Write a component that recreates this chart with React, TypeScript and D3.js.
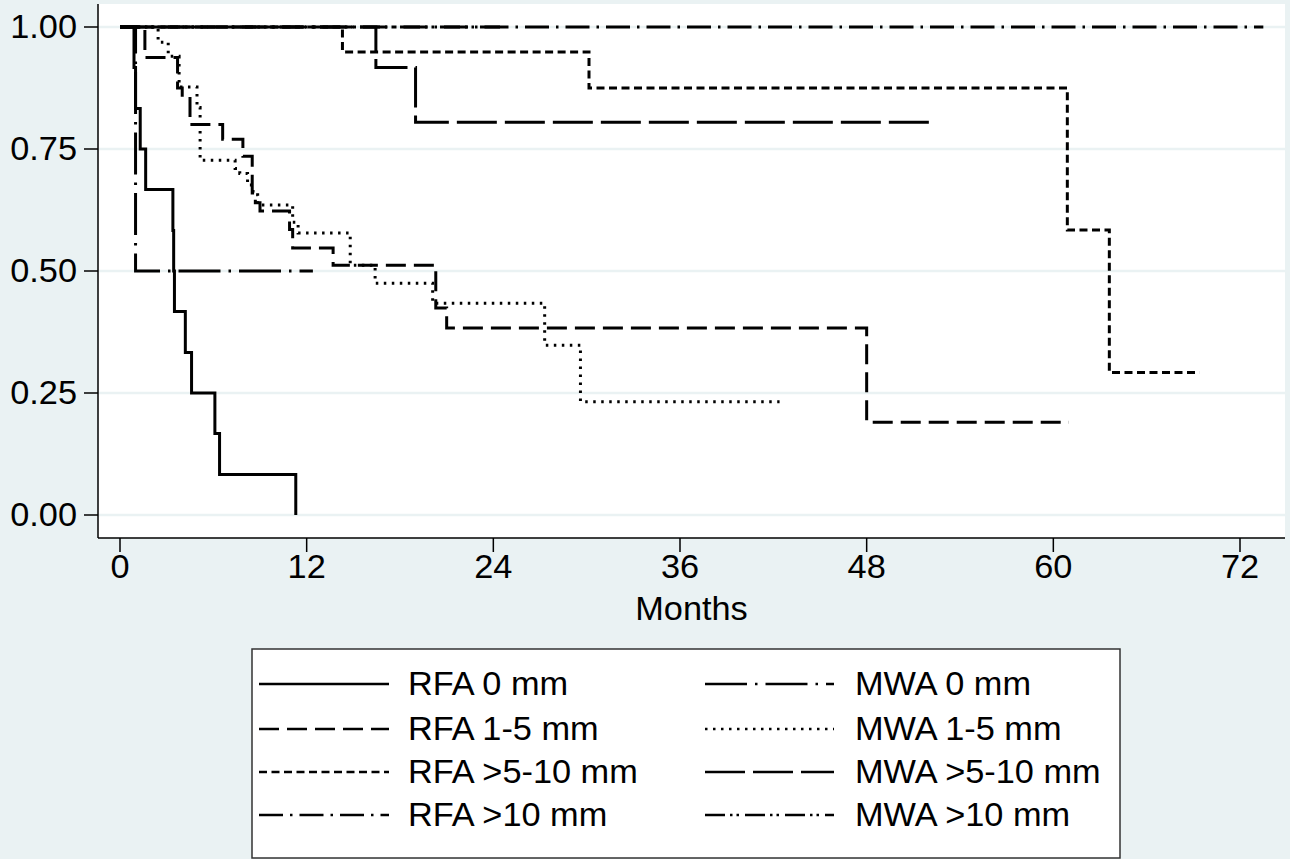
import * as d3 from 'd3';

// x ticks (months) and y ticks (survival)
const monthTicks = [0, 12, 24, 36, 48, 60, 72];
const survTicks = [0, 0.25, 0.5, 0.75, 1];

// Kaplan-Meier steps: event times, survival after each time, last follow-up
const rfa0Time = [0, 0.9, 1.0, 1.3, 1.65, 3.4, 3.45, 3.5, 4.2, 4.6, 6.1, 6.4, 11.3];
const rfa0Surv = [1, 0.917, 0.833, 0.75, 0.667, 0.583, 0.5, 0.417, 0.333, 0.25, 0.167, 0.083, 0];
const rfa0End = 11.3;

const rfa15Time = [0, 1.6, 3.7, 4.0, 4.5, 6.6, 7.9, 8.5, 8.7, 9.0, 10.9, 11.1, 13.7, 20.3, 21.0, 48.0];
const rfa15Surv = [1, 0.9375, 0.875, 0.857, 0.8, 0.77, 0.735, 0.66, 0.64, 0.623, 0.585, 0.547, 0.512, 0.424, 0.383, 0.19];
const rfa15End = 61.0;

const rfa510Time = [0, 14.3, 30.15, 60.9, 63.6];
const rfa510Surv = [1, 0.949, 0.875, 0.584, 0.292];
const rfa510End = 69.4;

const rfa10Time = [0];
const rfa10Surv = [1];
const rfa10End = 73.5;

const mwa0Time = [0, 1.0];
const mwa0Surv = [1, 0.5];
const mwa0End = 12.4;

const mwa15Time = [0, 2.45, 3.1, 3.8, 4.95, 5.15, 7.4, 7.7, 8.2, 8.55, 8.85, 11.1, 11.45, 14.8, 16.4, 20.1, 27.3, 29.6];
const mwa15Surv = [1, 0.969, 0.94, 0.877, 0.835, 0.727, 0.71, 0.7, 0.676, 0.656, 0.635, 0.6, 0.578, 0.512, 0.475, 0.434, 0.348, 0.232];
const mwa15End = 42.4;

const mwa510Time = [0, 16.45, 19.0];
const mwa510Surv = [1, 0.917, 0.805];
const mwa510End = 52.3;

const mwa10Time = [0];
const mwa10Surv = [1];
const mwa10End = 24.5;

const rfaLabels = ['RFA 0 mm', 'RFA 1-5 mm', 'RFA >5-10 mm', 'RFA >10 mm'];
const mwaLabels = ['MWA 0 mm', 'MWA 1-5 mm', 'MWA >5-10 mm', 'MWA >10 mm'];

const curves = [
  { label: rfaLabels[0], time: rfa0Time, surv: rfa0Surv, end: rfa0End },
  { label: rfaLabels[1], time: rfa15Time, surv: rfa15Surv, end: rfa15End },
  { label: rfaLabels[2], time: rfa510Time, surv: rfa510Surv, end: rfa510End },
  { label: rfaLabels[3], time: rfa10Time, surv: rfa10Surv, end: rfa10End },
  { label: mwaLabels[0], time: mwa0Time, surv: mwa0Surv, end: mwa0End },
  { label: mwaLabels[1], time: mwa15Time, surv: mwa15Surv, end: mwa15End },
  { label: mwaLabels[2], time: mwa510Time, surv: mwa510Surv, end: mwa510End },
  { label: mwaLabels[3], time: mwa10Time, surv: mwa10Surv, end: mwa10End },
];

// line patterns, plot and legend key
const dashes: Record<string, string> = {
  'RFA 0 mm': 'none',
  'RFA 1-5 mm': '20,8',
  'RFA >5-10 mm': '8,4.5',
  'RFA >10 mm': '24,7,2.5,7',
  'MWA 0 mm': '42,8,2.5,8',
  'MWA 1-5 mm': '2.5,5.5',
  'MWA >5-10 mm': '40,8',
  'MWA >10 mm': '20,5,2.5,4,2.5,6',
};

const W = 1290, H = 859;
const bg = '#eaf2f3';
const font = '"Liberation Sans", Arial, sans-serif';
const fs = 33;
const sx = 1.04;

export default function App() {
  const x = d3.scaleLinear().domain([0, 72]).range([120, 1240]);
  const y = d3.scaleLinear().domain([0, 1]).range([515, 27]);
  const plot = { l: 98, r: 1285, t: 4, b: 538 };

  const line = d3.line<[number, number]>()
    .x(d => x(d[0]))
    .y(d => y(d[1]))
    .curve(d3.curveStepAfter);

  const label = (tx: number, ty: number, txt: string, anchor: string) => (
    <text
      key={txt + tx + ty}
      transform={`translate(${tx},${ty}) scale(${sx},1)`}
      textAnchor={anchor}
      dominantBaseline="central"
      fontFamily={font}
      fontSize={fs}
      fill="#000"
    >{txt}</text>
  );

  const legendRows = [684, 729, 772, 815];

  return (
    <svg width={W} height={H} style={{ position: 'fixed', left: 0, top: 0 }}>
      <rect width={W} height={H} fill={bg} />
      <rect x={plot.l} y={plot.t} width={plot.r - plot.l} height={plot.b - plot.t} fill="#fff" />

      {survTicks.map(v => (
        <line key={'g' + v} x1={plot.l} x2={plot.r} y1={y(v)} y2={y(v)} stroke={bg} strokeWidth={2.5} />
      ))}

      {curves.map(c => {
        const pts: [number, number][] = c.time.map((t, i) => [t, c.surv[i]]);
        pts.push([c.end, c.surv[c.surv.length - 1]]);
        return (
          <path
            key={c.label}
            d={line(pts) || ''}
            fill="none"
            stroke="#000"
            strokeWidth={3}
            strokeDasharray={dashes[c.label]}
          />
        );
      })}

      {/* axes */}
      <line x1={plot.l} x2={plot.l} y1={plot.t} y2={plot.b} stroke="#000" strokeWidth={1.5} />
      <line x1={plot.l} x2={plot.r} y1={plot.b} y2={plot.b} stroke="#000" strokeWidth={1.5} />
      {survTicks.map(v => (
        <g key={'yt' + v}>
          <line x1={plot.l - 14} x2={plot.l} y1={y(v)} y2={y(v)} stroke="#000" strokeWidth={1.5} />
          {label(77, y(v), d3.format('.2f')(v), 'end')}
        </g>
      ))}
      {monthTicks.map(m => (
        <g key={'xt' + m}>
          <line x1={x(m)} x2={x(m)} y1={plot.b} y2={plot.b + 14} stroke="#000" strokeWidth={1.5} />
          {label(x(m), 567, String(m), 'middle')}
        </g>
      ))}
      {label((plot.l + plot.r) / 2, 609, 'Months', 'middle')}

      {/* legend */}
      <rect x={252} y={649} width={868} height={209} fill="#fff" stroke="#333" strokeWidth={1.5} />
      {rfaLabels.map((l, i) => (
        <g key={l}>
          <line x1={259} x2={389} y1={legendRows[i]} y2={legendRows[i]} stroke="#000" strokeWidth={2.4} strokeDasharray={dashes[l]} />
          {label(408, legendRows[i], l, 'start')}
        </g>
      ))}
      {mwaLabels.map((l, i) => (
        <g key={l}>
          <line x1={705} x2={834} y1={legendRows[i]} y2={legendRows[i]} stroke="#000" strokeWidth={2.4} strokeDasharray={dashes[l]} />
          {label(855, legendRows[i], l, 'start')}
        </g>
      ))}
    </svg>
  );
}
